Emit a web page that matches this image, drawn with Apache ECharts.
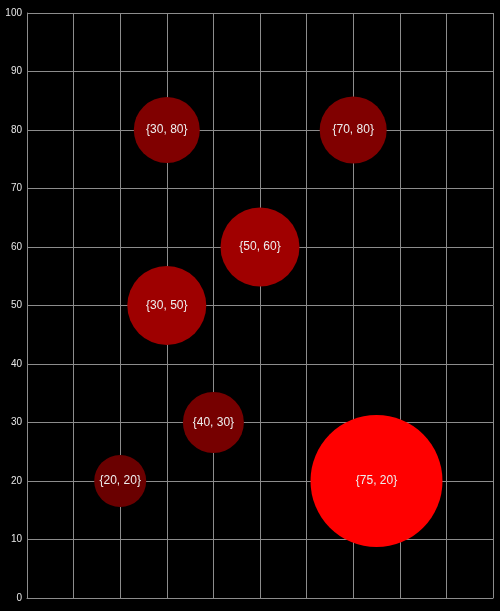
<!DOCTYPE html>
<html>
<head>
<meta charset="utf-8">
<script src="https://cdn.jsdelivr.net/npm/echarts@6/dist/echarts.min.js"></script>
<style>
html,body{margin:0;padding:0;background:#000;}
#c{width:500px;height:611px;}
</style>
</head>
<body>
<div id="c"></div>
<script>
// Data
const xValues = [20, 30, 40, 30, 50, 70, 75];
const yValues = [20, 80, 30, 50, 60, 80, 20];
const bubbleDiameters = [52, 66, 61, 79, 79, 67, 132];
const yTicks = [0, 10, 20, 30, 40, 50, 60, 70, 80, 90, 100];

// Styles
const bubbleColors = ['#6a0000', '#800000', '#760000', '#9e0000', '#a00000', '#800000', '#ff0000'];

const points = xValues.map((x, i) => ({
  value: [x, yValues[i], bubbleDiameters[i]],
  itemStyle: { color: bubbleColors[i], opacity: 1 }
}));

const chart = echarts.init(document.getElementById('c'), null, { renderer: 'canvas' });
chart.setOption({
  backgroundColor: '#000',
  animation: false,
  grid: { left: 27, right: 7, top: 13, bottom: 13, containLabel: false },
  xAxis: {
    type: 'value', min: 0, max: 100, interval: 10,
    axisLabel: { show: false },
    axisTick: { show: false },
    axisLine: { show: true, lineStyle: { color: '#8c8c8c', width: 1 } },
    splitLine: { show: true, lineStyle: { color: '#8c8c8c', width: 1 } }
  },
  yAxis: {
    type: 'value', min: 0, max: 100, interval: 10,
    axisLabel: {
      color: '#e6e6e6', fontSize: 10, fontFamily: 'Liberation Sans, Arial, sans-serif', margin: 5,
      formatter: v => yTicks.includes(v) ? String(v) : ''
    },
    axisTick: { show: false },
    axisLine: { show: true, lineStyle: { color: '#8c8c8c', width: 1 } },
    splitLine: { show: true, lineStyle: { color: '#8c8c8c', width: 1 } }
  },
  series: [{
    type: 'scatter',
    data: points,
    symbol: 'circle',
    symbolSize: v => v[2],
    itemStyle: { opacity: 1 },
    z: 5,
    label: {
      show: true, position: 'inside',
      color: '#eeeeee', fontSize: 12, fontFamily: 'Liberation Sans, Arial, sans-serif',
      formatter: p => '{' + p.value[0] + ', ' + p.value[1] + '}'
    }
  }]
});
</script>
</body>
</html>
